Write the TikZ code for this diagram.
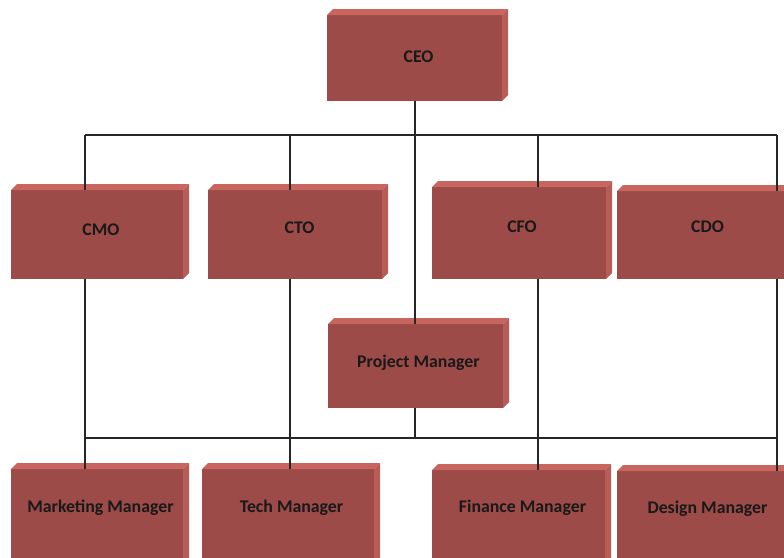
\documentclass[tikz,border=0pt]{standalone}
\usepackage{fontspec}
\setmainfont{Carlito}
\definecolor{boxfront}{HTML}{9C4B48}
\definecolor{boxtop}{HTML}{C8655E}
\definecolor{boxside}{HTML}{B85C57}
\newcommand\orgbox[5]{%
  \node[box, minimum width=#4pt, minimum height=#5pt] (#1) at (#2,#3) {};
  \fill[boxtop] (#1.north west) -- ++(6,-6) -- ([shift={(6,-6)}]#1.north east) -- (#1.north east) -- cycle;
  \fill[boxside] (#1.north east) -- ++(6,-6) -- ([shift={(6,-6)}]#1.south east) -- (#1.south east) -- cycle;
}
\begin{document}
\begin{tikzpicture}[x=1pt,y=-1pt,
  box/.style={fill=boxfront, draw=none, inner sep=0pt, outer sep=0pt, anchor=north west},
  lbl/.style={font=\fontsize{17.8}{21}\selectfont\bfseries, text=black!90, anchor=base, inner sep=0pt},
  conn/.style={line width=1.2pt, draw=black!85}]
\clip (0,0) rectangle (784,557);
% boxes
\orgbox{ceo}{327}{15}{175}{86}
\orgbox{cmo}{11}{190}{172}{89}
\orgbox{cto}{208}{190}{174}{89}
\orgbox{cfo}{432}{187}{174}{92}
\orgbox{cdo}{617}{191}{174}{88}
\orgbox{pm}{328}{324}{175}{84}
\orgbox{mm}{11}{469}{172}{110}
\orgbox{tm}{202}{469}{172}{110}
\orgbox{fm}{432}{470}{173}{110}
\orgbox{dm}{617}{471}{174}{110}
% labels
\node[lbl] (ceot) at (418.5,62) {CEO};
\node[lbl] (cmot) at (101,235) {CMO};
\node[lbl] (ctot) at (299.5,233) {CTO};
\node[lbl] (cfot) at (522,232) {CFO};
\node[lbl] (cdot) at (707.5,232) {CDO};
\node[lbl] (pmt) at (418.5,367) {Project Manager};
\node[lbl] (mmt) at (100.5,512) {Marketing Manager};
\node[lbl] (tmt) at (291.5,512) {Tech Manager};
\node[lbl] (fmt) at (522.5,512) {Finance Manager};
\node[lbl] (dmt) at (707.5,513) {Design Manager};
% junctions
\coordinate (h1) at (415,135);
\coordinate (a1) at (85,135);
\coordinate (b1) at (290,135);
\coordinate (c1) at (538,135);
\coordinate (d1) at (777,135);
\coordinate (h2) at (415,438);
\coordinate (a2) at (85,438);
\coordinate (d2) at (777,438);
% upper connectors
\draw[conn] (ceo.south -| h1) -- (pm.north -| h1);
\draw[conn] (a1) -- (d1);
\draw[conn] (a1) -- (cmo.north -| a1);
\draw[conn] (b1) -- (cto.north -| b1);
\draw[conn] (c1) -- (cfo.north -| c1);
\draw[conn] (d1) -- (cdo.north -| d1);
% lower connectors
\draw[conn] (pm.south -| h2) -- (h2);
\draw[conn] (a2) -- (d2);
\draw[conn] (cmo.south -| a1) -- (mm.north -| a1);
\draw[conn] (cto.south -| b1) -- (tm.north -| b1);
\draw[conn] (cfo.south -| c1) -- (fm.north -| c1);
\draw[conn] (cdo.south -| d1) -- (dm.north -| d1);
\end{tikzpicture}
\end{document}
